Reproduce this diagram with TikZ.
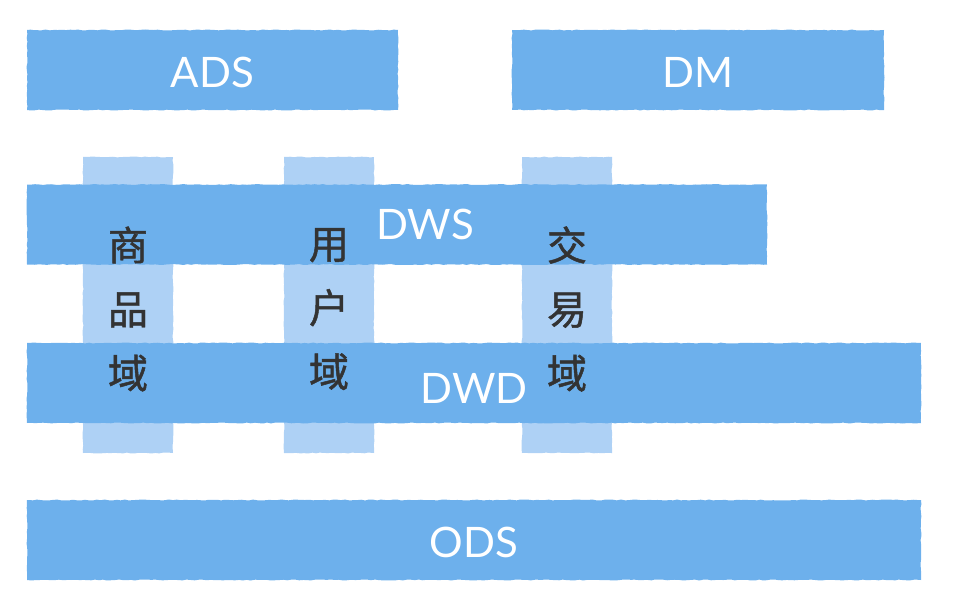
\documentclass[tikz,border=0pt]{standalone}
\usepackage{fontspec}
\setmainfont{Lato}
\newfontfamily\cjk[FakeBold=1.2]{Noto Sans CJK SC}
\usetikzlibrary{decorations.pathmorphing}
\definecolor{layerblue}{HTML}{6DB0EC}
\definecolor{domainblue}{HTML}{AED1F5}
\definecolor{inkgray}{HTML}{333333}
\tikzset{
  rough/.style={decorate,decoration={random steps,segment length=4pt,amplitude=0.5pt}},
  layerbar/.style={rough,fill=layerblue,inner sep=0pt,minimum height=80},
  layertext/.style={text=white,font=\fontsize{42}{42}\selectfont},
  domainbar/.style={rough,fill=domainblue,inner sep=0pt,minimum width=90,minimum height=296},
  domtext/.style={text=inkgray,align=center,font=\cjk\fontsize{40}{64}\selectfont}
}
\begin{document}
\begin{tikzpicture}[x=1pt,y=-1pt]
  \useasboundingbox (0,0) rectangle (960,599);
  % domains behind the layers
  \node[domainbar] (goods)  at (128,305) {};
  \node[domainbar] (users)  at (329,305) {};
  \node[domainbar] (trades) at (567,305) {};
  % layers
  \node[layerbar,minimum width=371,label={[layertext,yshift=-2pt]center:ADS}] (ads) at (212.5,70) {};
  \node[layerbar,minimum width=372,label={[layertext,yshift=-2pt]center:DM}]  (dm)  at (698,70)   {};
  \node[layerbar,minimum width=740] (dws) at (397,224.5) {};
  \node[layertext] (dwslabel) at (425,224) {DWS};
  \node[layerbar,minimum width=894,label={[layertext,yshift=-5pt]center:DWD}] (dwd) at (474,383) {};
  \node[layerbar,minimum width=894,label={[layertext,yshift=-2pt]center:ODS}] (ods) at (474,540) {};
  % domain labels on top
  \node[domtext] (goodslabel)  at (128,309) {商\\品\\域};
  \node[domtext] (userslabel)  at (329,309) {用\\户\\域};
  \node[domtext] (tradeslabel) at (567,309) {交\\易\\域};
\end{tikzpicture}
\end{document}
